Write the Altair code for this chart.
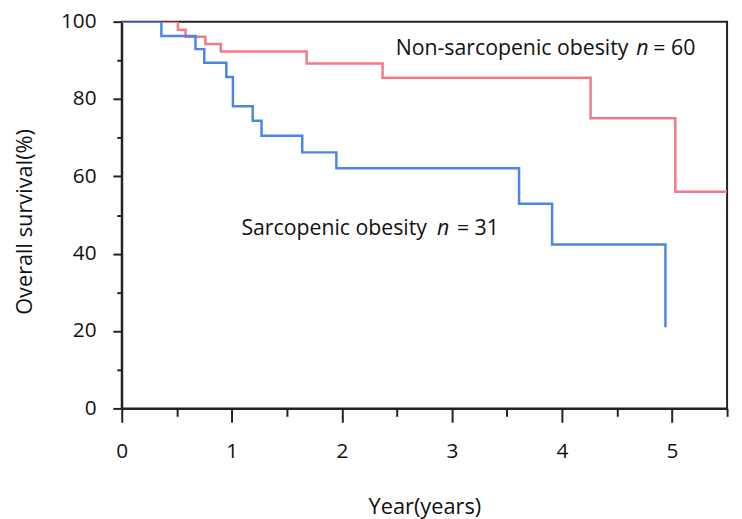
import altair as alt
import pandas as pd

# Kaplan-Meier step curves
non_sarc_years = [0, 0.51, 0.58, 0.76, 0.90, 1.68, 2.37, 4.26, 5.03, 5.5]
non_sarc_surv = [100, 97.9, 96.1, 94.2, 92.3, 89.2, 85.5, 75.0, 56.0, 56.0]

sarc_years = [0, 0.36, 0.67, 0.75, 0.95, 1.01, 1.19, 1.27, 1.64, 1.95, 3.61, 3.91, 4.94]
sarc_surv = [100, 96.3, 92.9, 89.4, 85.7, 78.1, 74.4, 70.5, 66.2, 62.1, 52.9, 42.4, 21.0]

groups = ["Non-sarcopenic obesity", "Sarcopenic obesity"]
colors = ["#f2788a", "#4a86e8"]

x_major = [0, 1, 2, 3, 4, 5]
x_minor = [0.5, 1.5, 2.5, 3.5, 4.5, 5.5]
y_major = [0, 20, 40, 60, 80, 100]
y_minor = [10, 30, 50, 70, 90]

# annotation pieces
ann_x = [2.489, 4.675, 4.83, 1.087, 2.865, 3.045]
ann_y = [92.9, 92.9, 92.9, 46.3, 46.3, 46.3]
ann_text = ["Non-sarcopenic obesity", "n", "= 60", "Sarcopenic obesity", "n", "= 31"]
ann_italic = [False, True, False, False, True, False]

df = pd.concat([
    pd.DataFrame({"year": non_sarc_years, "surv": non_sarc_surv, "group": groups[0]}),
    pd.DataFrame({"year": sarc_years, "surv": sarc_surv, "group": groups[1]}),
])
ann = pd.DataFrame({"x": ann_x, "y": ann_y, "t": ann_text, "it": ann_italic})

FONT = "Open Sans"
AX = "#222222"
TXT = "#111111"

xscale = alt.Scale(domain=[0, 5.5], nice=False, zero=False)
yscale = alt.Scale(domain=[0, 100], nice=False)

lines = alt.Chart(df).mark_line(interpolate="step-after", strokeWidth=2.5, clip=True).encode(
    x=alt.X("year:Q", scale=xscale,
            axis=alt.Axis(values=x_major, tickSize=14, tickWidth=2, tickColor=AX,
                          domainColor=AX, domainWidth=2, grid=False,
                          labelFont=FONT, labelFontSize=21, labelColor=TXT,
                          labelPadding=19, labelFlush=False,
                          title="Year(years)", titleFont=FONT, titleFontSize=22,
                          titleFontWeight="normal", titleColor=TXT,
                          titleY=99, titleBaseline="middle")),
    y=alt.Y("surv:Q", scale=yscale,
            axis=alt.Axis(values=y_major, tickSize=9, tickWidth=2, tickColor=AX,
                          domainColor=AX, domainWidth=2, grid=False,
                          labelFont=FONT, labelFontSize=21, labelColor=TXT,
                          labelPadding=17, labelFlush=False,
                          title="Overall survival(%)", titleFont=FONT, titleFontSize=22,
                          titleFontWeight="normal", titleColor=TXT,
                          titleX=-98, titleY=202, titleBaseline="middle")),
    color=alt.Color("group:N", scale=alt.Scale(domain=groups, range=colors), legend=None),
    detail="group:N",
)

minor = alt.Chart(df).mark_point(opacity=0).encode(
    x=alt.X("year:Q", scale=xscale,
            axis=alt.Axis(values=x_minor, tickSize=8, tickWidth=2, tickColor=AX,
                          domain=False, labels=False, grid=False, title=None, orient="bottom")),
    y=alt.Y("surv:Q", scale=yscale,
            axis=alt.Axis(values=y_minor, tickSize=5, tickWidth=2, tickColor=AX,
                          domain=False, labels=False, grid=False, title=None, orient="left")),
)

text_normal = alt.Chart(ann).transform_filter("!datum.it").mark_text(
    align="left", baseline="middle", font=FONT, fontSize=21.5, color=TXT).encode(
    x=alt.X("x:Q", scale=xscale, axis=None),
    y=alt.Y("y:Q", scale=yscale, axis=None),
    text="t:N",
)
text_italic = alt.Chart(ann).transform_filter("datum.it").mark_text(
    align="left", baseline="middle", font=FONT, fontSize=21.5, fontStyle="italic",
    color=TXT).encode(
    x=alt.X("x:Q", scale=xscale, axis=None),
    y=alt.Y("y:Q", scale=yscale, axis=None),
    text="t:N",
)

chart = alt.layer(lines, minor, text_normal, text_italic).resolve_axis(
    x="independent", y="independent").properties(
    width=612, height=391,
    autosize=alt.AutoSizeParams(type="none"),
    padding={"left": 115, "top": 11, "right": 7, "bottom": 109},
    background="white",
).configure_view(stroke=AX, strokeWidth=2)

chart.save("out.html", embed_options={"renderer": "svg", "actions": False})
